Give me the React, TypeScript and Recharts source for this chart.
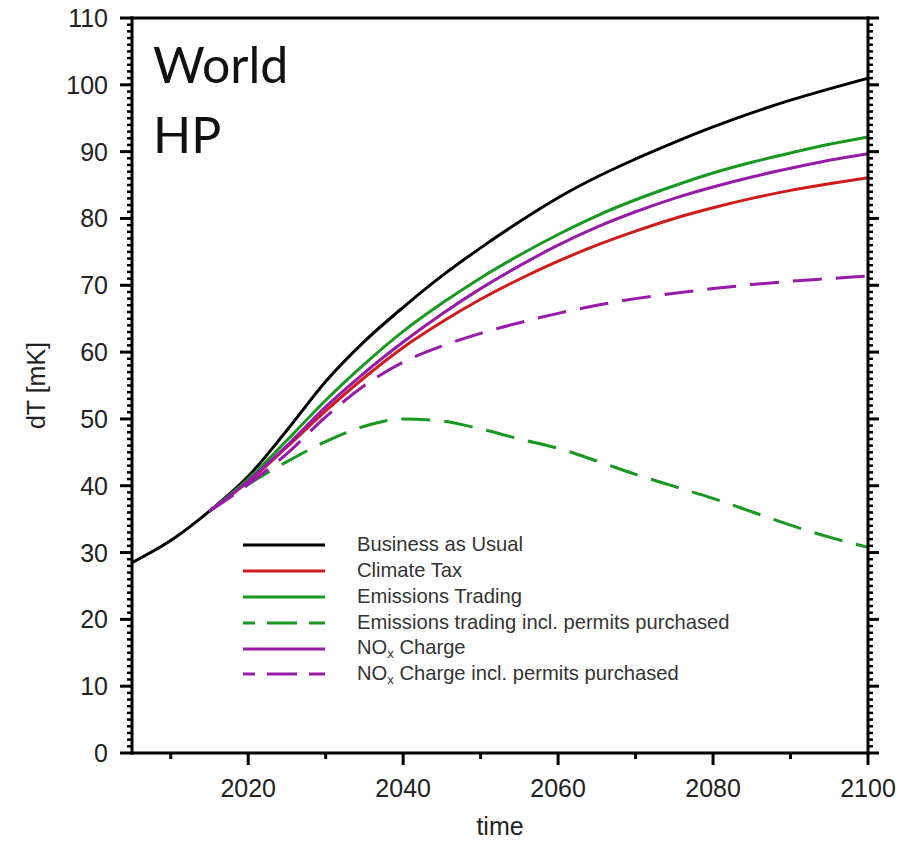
import React from "react";
import { LineChart, Line, XAxis, YAxis, Legend } from "recharts";

// years on the x axis, values in mK
const YEARS = [2005, 2010, 2015, 2020, 2025, 2030, 2035, 2040, 2045, 2050, 2055, 2060, 2065, 2070, 2075, 2080, 2085, 2090, 2095, 2100];
const BAU = [28.5, 31.8, 36.2, 41.4, 48.3, 55.6, 61.6, 66.7, 71.4, 75.6, 79.5, 83.1, 86.2, 88.9, 91.4, 93.7, 95.8, 97.7, 99.4, 101.0];
const CLIMATE_TAX = [null, null, 36.2, 40.6, 45.8, 51.2, 56.2, 60.7, 64.5, 67.9, 70.9, 73.6, 76.0, 78.1, 80.0, 81.6, 83.0, 84.2, 85.2, 86.1];
const EMISSIONS_TRADING = [null, null, 36.2, 41.0, 46.8, 52.8, 58.2, 63.1, 67.3, 71.1, 74.5, 77.6, 80.4, 82.8, 84.9, 86.8, 88.4, 89.8, 91.1, 92.2];
const ET_PERMITS = [null, null, 36.2, 40.2, 43.6, 46.6, 48.9, 50.0, 49.7, 48.5, 47.0, 45.6, 43.7, 41.7, 39.9, 38.1, 36.1, 34.1, 32.3, 30.8];
const NOX_CHARGE = [null, null, 36.2, 40.7, 46.0, 51.8, 56.9, 61.5, 65.7, 69.5, 72.9, 76.0, 78.7, 81.0, 83.0, 84.7, 86.2, 87.5, 88.7, 89.7];
const NOX_PERMITS = [null, null, 36.2, 40.2, 44.8, 50.3, 55.0, 58.5, 60.9, 62.8, 64.4, 65.8, 67.0, 68.0, 68.8, 69.5, 70.1, 70.6, 71.0, 71.4];

const X_TICKS = [2010, 2020, 2030, 2040, 2050, 2060, 2070, 2080, 2090, 2100];
const Y_TICKS = Array.from({ length: 111 }, (_, i) => i);

const data = YEARS.map((year, i) => ({
  year,
  bau: BAU[i],
  tax: CLIMATE_TAX[i],
  et: EMISSIONS_TRADING[i],
  etp: ET_PERMITS[i],
  nox: NOX_CHARGE[i],
  noxp: NOX_PERMITS[i],
}));

const SERIES = [
  { key: "bau", name: "Business as Usual", color: "#000000", dash: undefined },
  { key: "tax", name: "Climate Tax", color: "#d01b1b", dash: undefined },
  { key: "et", name: "Emissions Trading", color: "#17981f", dash: undefined },
  { key: "etp", name: "Emissions trading incl. permits purchased", color: "#17981f", dash: "29 14" },
  { key: "nox", name: "NOx Charge", color: "#981aa8", dash: undefined },
  { key: "noxp", name: "NOx Charge incl. permits purchased", color: "#981aa8", dash: "29 14" },
];

const FONT = '"Liberation Sans", Arial, sans-serif';
const AXIS_LINE = { stroke: "#000", strokeWidth: 3, strokeLinecap: "square" as const };

function BottomTick({ x, y, payload }: any) {
  const major = payload.value % 20 === 0;
  return (
    <g>
      <line x1={x} x2={x} y1={y} y2={y + (major ? 12 : 6)} stroke="#000" strokeWidth={3} />
      {major && (
        <text x={x} y={y + 44} textAnchor="middle" fontSize={25} fill="#222" fontFamily={FONT}>
          {payload.value}
        </text>
      )}
    </g>
  );
}

function TopTick({ x, y, payload }: any) {
  const major = payload.value % 20 === 0;
  return <line x1={x} x2={x} y1={y} y2={y - (major ? 11 : 6)} stroke="#000" strokeWidth={3} />;
}

function LeftTick({ x, y, payload }: any) {
  const major = payload.value % 10 === 0;
  return (
    <g>
      <line x1={x} x2={x - (major ? 12 : 5)} y1={y} y2={y} stroke="#000" strokeWidth={major ? 3 : 2.5} />
      {major && (
        <text x={x - 24} y={y} dy={9} textAnchor="end" fontSize={25} fill="#222" fontFamily={FONT}>
          {payload.value}
        </text>
      )}
    </g>
  );
}

function RightTick({ x, y, payload }: any) {
  const major = payload.value % 10 === 0;
  return <line x1={x} x2={x + (major ? 11 : 5)} y1={y} y2={y} stroke="#000" strokeWidth={major ? 3 : 2.5} />;
}

function LegendName({ text }: { text: string }) {
  if (text.startsWith("NOx")) {
    return (
      <span>
        NO<sub style={{ fontSize: 13, verticalAlign: -4 }}>x</sub>
        {text.slice(3)}
      </span>
    );
  }
  return <span>{text}</span>;
}

function LegendBox({ payload }: any) {
  return (
    <div style={{ fontFamily: FONT, fontSize: 20.2, color: "#333" }}>
      {(payload || []).map((p: any) => {
        const s = SERIES.find((d) => d.key === p.dataKey) || SERIES[0];
        return (
          <div key={s.key} style={{ height: 25.9, display: "flex", alignItems: "center", whiteSpace: "nowrap" }}>
            <svg width={82} height={6} style={{ display: "block" }}>
              <line x1={0} x2={82} y1={3} y2={3} stroke={s.color} strokeWidth={3} strokeDasharray={s.dash ? "30 12" : undefined} strokeDashoffset={s.dash ? 18 : undefined} />
            </svg>
            <span style={{ marginLeft: 32 }}>
              <LegendName text={s.name} />
            </span>
          </div>
        );
      })}
    </div>
  );
}

export default function App() {
  return (
    <div style={{ position: "absolute", left: 0, top: 0, width: 917, height: 842, background: "#fff" }}>
      <LineChart width={917} height={842} data={data} margin={{ top: 0, right: 0, bottom: 0, left: 0 }}>
        <XAxis
          xAxisId="top"
          orientation="top"
          type="number"
          domain={[2005, 2100]}
          allowDataOverflow
          ticks={X_TICKS}
          interval={0}
          height={18}
          tickLine={false}
          tickSize={0}
          tickMargin={0}
          tick={<TopTick />}
          axisLine={AXIS_LINE}
        />
        <XAxis
          dataKey="year"
          type="number"
          domain={[2005, 2100]}
          allowDataOverflow
          ticks={X_TICKS}
          interval={0}
          height={89}
          tickLine={false}
          tickSize={0}
          tickMargin={0}
          tick={<BottomTick />}
          axisLine={AXIS_LINE}
          label={{ value: "time", position: "insideBottom", offset: 7, fontSize: 25, fill: "#222", fontFamily: FONT }}
        />
        <YAxis
          type="number"
          domain={[0, 110]}
          allowDataOverflow
          ticks={Y_TICKS}
          interval={0}
          width={132}
          tickLine={false}
          tickSize={0}
          tickMargin={0}
          tick={<LeftTick />}
          axisLine={AXIS_LINE}
          label={{
            content: ({ viewBox }: any) => (
              <text
                x={viewBox.x + 45}
                y={viewBox.y + viewBox.height / 2}
                transform={`rotate(-90 ${viewBox.x + 45} ${viewBox.y + viewBox.height / 2})`}
                textAnchor="middle"
                fontSize={25}
                fill="#222"
                fontFamily={FONT}
              >
                dT [mK]
              </text>
            ),
          }}
        />
        <YAxis
          yAxisId="right"
          orientation="right"
          type="number"
          domain={[0, 110]}
          allowDataOverflow
          ticks={Y_TICKS}
          interval={0}
          width={49}
          tickLine={false}
          tickSize={0}
          tickMargin={0}
          tick={<RightTick />}
          axisLine={AXIS_LINE}
        />
        {SERIES.map((s) => (
          <Line
            key={s.key}
            type="monotone"
            dataKey={s.key}
            name={s.name}
            stroke={s.color}
            strokeWidth={3}
            strokeDasharray={s.dash}
            dot={false}
            activeDot={false}
            isAnimationActive={false}
          />
        ))}
        <Legend
          layout="vertical"
          align="center"
          verticalAlign="middle"
          content={<LegendBox />}
          wrapperStyle={{ left: 243, top: 532, width: 600 }}
        />
      </LineChart>
      <svg width={917} height={842} style={{ position: "absolute", left: 0, top: 0, pointerEvents: "none" }}>
        <text x={153} y={83} fontSize={50} fontFamily="Lato, sans-serif" fill="#111">World</text>
        <text x={153} y={153} fontSize={50} fontFamily="Lato, sans-serif" fill="#111">HP</text>
      </svg>
    </div>
  );
}
